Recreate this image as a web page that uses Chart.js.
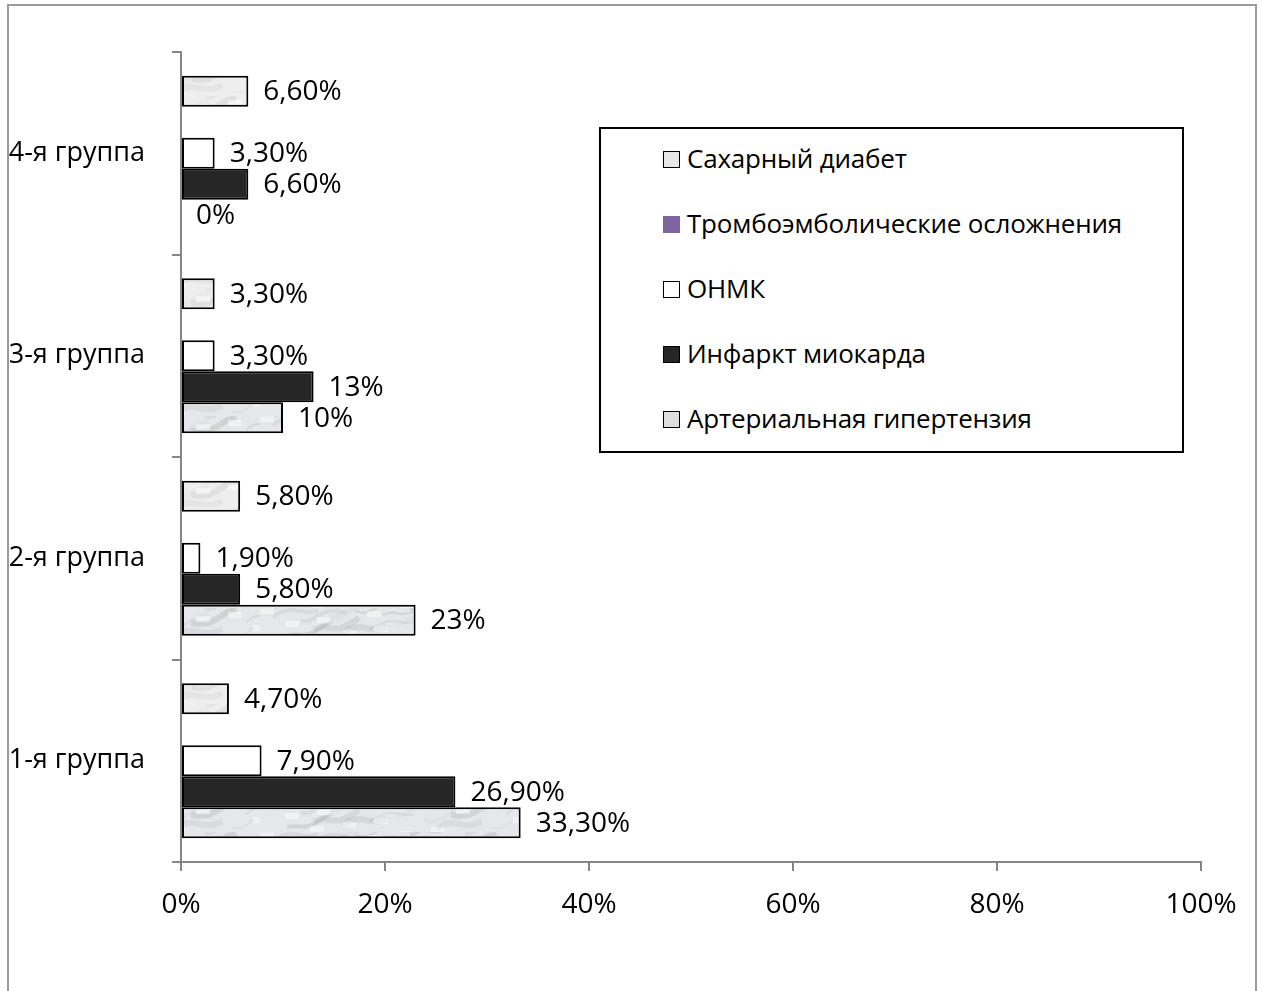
<!DOCTYPE html>
<html>
<head>
<meta charset="utf-8">
<script src="https://cdn.jsdelivr.net/npm/chart.js@4/dist/chart.umd.min.js"></script>
<style>
    body { margin: 0; background: #fff; font-family: "Open Sans", sans-serif; }
    #wrap { position: relative; width: 1262px; height: 991px; overflow: hidden; }
    #chart { position: absolute; left: 0; top: 0; }
    #frame { position: absolute; left: 7px; top: 4px; width: 1246px; height: 1010px; border: 2px solid #9a9a9a; pointer-events: none; }
    #legend { position: absolute; left: 599px; top: 127px; width: 581px; height: 322px; border: 2px solid #000; background: #fff; }
    .item { position: absolute; left: 62px; height: 30px; font-size: 26px; line-height: 30px; color: #000; white-space: nowrap; }
    .item .box { position: absolute; left: 0; top: 6px; width: 17px; height: 17px; box-sizing: border-box; }
    .item span { position: absolute; left: 24px; top: -2px; letter-spacing: -0.2px; }
</style>
</head>
<body>
<div id="wrap">
    <canvas id="chart" width="1262" height="991"></canvas>
    <div id="legend"></div>
    <div id="frame"></div>
</div>
<script>
// groups listed top to bottom as in the picture
var groups = ["4-я группа", "3-я группа", "2-я группа", "1-я группа"];

var diabetes = [6.6, 3.3, 5.8, 4.7];         // Сахарный диабет
var thrombo = [null, null, null, null];      // Тромбоэмболические осложнения
var stroke = [3.3, 3.3, 1.9, 7.9];           // ОНМК
var infarct = [6.6, 13, 5.8, 26.9];          // Инфаркт миокарда
var hypertension = [0, 10, 23, 33.3];        // Артериальная гипертензия

var xTicks = [0, 20, 40, 60, 80, 100];

var NUM_FONT = { family: "Open Sans", size: 28 };
var CAT_FONT = { family: "Open Sans", size: 27 };

// light marble texture for the two textured series
function makeTexture(base, streak) {
    var c = document.createElement("canvas");
    c.width = 260; c.height = 32;
    var g = c.getContext("2d");
    g.fillStyle = base;
    g.fillRect(0, 0, c.width, c.height);
    for (var i = 0; i < 18; i++) {
        var x0 = (i * 41) % 260;
        var y0 = (i * 13) % 32;
        g.strokeStyle = "rgba(" + streak + "," + (0.06 + (i % 4) * 0.04) + ")";
        g.lineWidth = 2 + (i % 3) * 2;
        g.beginPath();
        g.moveTo(x0, y0);
        for (var k = 1; k <= 5; k++) {
            g.lineTo(x0 + k * 9, y0 + Math.sin(i * 1.7 + k) * 4 - k * 2);
        }
        g.stroke();
    }
    g.fillStyle = "rgba(255,255,255,0.45)";
    for (var j = 0; j < 12; j++) {
        g.fillRect((j * 57) % 260, (j * 9) % 32, 14, 6);
    }
    return g.createPattern(c, "repeat");
}
var speckle = makeTexture("#eeeeee", "160,160,160");
var marble = makeTexture("#e6e7ea", "120,120,125");

var series = [
    { label: "Сахарный диабет", data: diabetes, bg: speckle, legendBg: "#e8e8e8", legendBorder: "#000" },
    { label: "Тромбоэмболические осложнения", data: thrombo, bg: "#8064a2", legendBg: "#8064a2", legendBorder: "#8064a2" },
    { label: "ОНМК", data: stroke, bg: "#ffffff", legendBg: "#fff", legendBorder: "#000" },
    { label: "Инфаркт миокарда", data: infarct, bg: "#262626", legendBg: "#262626", legendBorder: "#000" },
    { label: "Артериальная гипертензия", data: hypertension, bg: marble, legendBg: "#dedede", legendBorder: "#000" }
];

function fmt(v) {
    if (Math.round(v) === v) return v + "%";
    return v.toFixed(2).replace(".", ",") + "%";
}

var valueLabels = {
    id: "valueLabels",
    afterDatasetsDraw: function(chart) {
        var ctx = chart.ctx;
        ctx.save();
        ctx.font = NUM_FONT.size + "px " + NUM_FONT.family;
        ctx.fillStyle = "#000";
        ctx.textBaseline = "middle";
        ctx.textAlign = "left";
        chart.data.datasets.forEach(function(ds, i) {
            var meta = chart.getDatasetMeta(i);
            meta.data.forEach(function(bar, j) {
                var v = ds.data[j];
                if (v === null || v === undefined) return;
                ctx.fillText(fmt(v), bar.x + 15, bar.y + 1);
            });
        });
        ctx.restore();
    }
};

var chart = new Chart(document.getElementById("chart"), {
    type: "bar",
    data: {
        labels: groups,
        datasets: series.map(function(s) {
            return {
                label: s.label,
                data: s.data,
                backgroundColor: s.bg,
                borderColor: "#000",
                borderWidth: 2,
                borderSkipped: false,
                categoryPercentage: 0.765,
                barPercentage: 1
            };
        })
    },
    options: {
        indexAxis: "y",
        responsive: false,
        animation: false,
        layout: { padding: { top: 52, right: 61, left: 0, bottom: 0 } },
        plugins: { legend: { display: false }, tooltip: { enabled: false } },
        scales: {
            x: {
                min: 0, max: 100,
                afterBuildTicks: function(s) { s.ticks = xTicks.map(function(v) { return { value: v }; }); },
                afterFit: function(s) { s.height = 129; },
                grid: { drawOnChartArea: false, tickLength: 9, color: "#868686", lineWidth: 2 },
                border: { color: "#868686", width: 2 },
                ticks: { font: NUM_FONT, color: "#000", padding: 17, callback: function(v) { return v + "%"; } }
            },
            y: {
                afterFit: function(s) { s.width = 181; },
                grid: { offset: true, drawOnChartArea: false, tickLength: 9, color: "#868686", lineWidth: 2 },
                border: { color: "#868686", width: 2 },
                ticks: { font: CAT_FONT, color: "#000", padding: 27 }
            }
        }
    },
    plugins: [valueLabels]
});

// legend box, same order as the bars inside a group
var legend = document.getElementById("legend");
series.forEach(function(s, i) {
    var item = document.createElement("div");
    item.className = "item";
    item.style.top = (16 + i * 65) + "px";
    var box = document.createElement("div");
    box.className = "box";
    box.style.background = s.legendBg;
    box.style.border = "1.5px solid " + s.legendBorder;
    var txt = document.createElement("span");
    txt.textContent = s.label;
    item.appendChild(box);
    item.appendChild(txt);
    legend.appendChild(item);
});
</script>
</body>
</html>
